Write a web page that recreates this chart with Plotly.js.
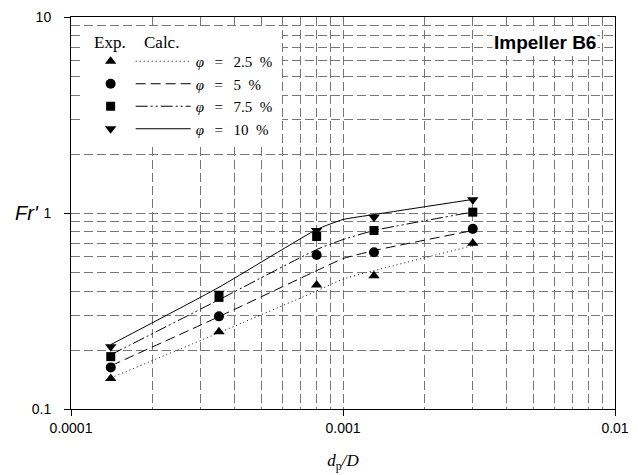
<!DOCTYPE html>
<html>
<head>
<meta charset="utf-8">
<script src="https://cdn.plot.ly/plotly-3.0.1.min.js"></script>
<style>html,body{margin:0;padding:0;background:#fff;}#chart{width:638px;height:475px;}</style>
</head>
<body>
<div id="chart"></div>
<script>
// Experimental points
const expX = [0.00014, 0.00035, 0.0008, 0.0013, 0.003];
const exp25 = [0.143, 0.248, 0.429, 0.479, 0.701];
const exp5 = [0.163, 0.297, 0.611, 0.631, 0.830];
const exp75 = [0.185, 0.371, 0.759, 0.814, 1.01];
const exp10 = [0.208, 0.389, 0.814, 0.952, 1.17];

// Calculated curves
const calcX = [0.00014, 0.00035, 0.0008, 0.001, 0.0013, 0.003];
const calc25 = [0.144, 0.245, 0.40, 0.46, 0.508, 0.682];
const calc5 = [0.166, 0.296, 0.508, 0.585, 0.643, 0.814];
const calc75 = [0.189, 0.361, 0.651, 0.732, 0.814, 1.012];
const calc10 = [0.213, 0.418, 0.823, 0.926, 0.982, 1.173];

const seriesNames = ['\u03C6 = 2.5 %', '\u03C6 = 5 %', '\u03C6 = 7.5 %', '\u03C6 = 10 %'];
const xTickVals = [0.0001, 0.001, 0.01];
const xTickText = ['0.0001', '0.001', '0.01'];
const yTickVals = [0.1, 1, 10];
const yTickText = ['0.1', '1', '10'];
const xMinor = [0.0002,0.0003,0.0004,0.0005,0.0006,0.0007,0.0008,0.0009,0.002,0.003,0.004,0.005,0.006,0.007,0.008,0.009];
const yMinor = [0.2,0.3,0.4,0.5,0.6,0.7,0.8,0.9,2,3,4,5,6,7,8,9];

const expSets = [exp25, exp5, exp75, exp10];
const calcSets = [calc25, calc5, calc75, calc10];
const symbols = ['triangle-up', 'circle', 'square', 'triangle-down'];
const msizes = [10, 10, 9, 10];
const dashes = ['1px,3px', '10px,5px', '12px,3px,2px,3px,2px,3px', 'solid'];

function label(n) {
  return n.replace('\u03C6', '<i>\u03C6</i>')
          .replace(' = ', '\u2002\u2009=\u2002\u2009')
          .replace(' %', '\u2002%');
}

const traces = [];
expSets.forEach((ys, i) => {
  traces.push({
    x: expX, y: ys, type: 'scatter', mode: 'markers',
    name: '\u00a0', legend: 'legend',
    marker: {symbol: symbols[i], size: msizes[i], color: '#000'},
    cliponaxis: false
  });
});
calcSets.forEach((ys, i) => {
  traces.push({
    x: calcX, y: ys, type: 'scatter', mode: 'lines',
    name: label(seriesNames[i]), legend: 'legend2',
    line: {color: '#000', width: 1, dash: dashes[i], shape: 'spline', smoothing: 0.5}
  });
});

const gridCol = '#777777';
const gridDash = '9px,4px';

const axisCommon = {
  type: 'log',
  showline: true, mirror: true, linecolor: '#000', linewidth: 1,
  ticks: 'outside', ticklen: 6, tickcolor: '#000', tickwidth: 1,
  tickmode: 'array',
  showgrid: true, gridcolor: gridCol, gridwidth: 1, griddash: gridDash,
  tickfont: {family: 'Liberation Sans, Arial', size: 14, color: '#000'},
  zeroline: false
};

const legendFont = {family: 'Liberation Serif, Times New Roman', size: 15, color: '#000'};

const layout = {
  width: 638, height: 475,
  margin: {l: 71, r: 23, t: 17, b: 66},
  paper_bgcolor: '#fff', plot_bgcolor: '#fff',
  showlegend: true,
  xaxis: Object.assign({}, axisCommon, {
    range: [-4, -2], tickvals: xTickVals, ticktext: xTickText, ticklabelstandoff: 0,
    minor: {tickmode: 'array', tickvals: xMinor, showgrid: true, gridcolor: gridCol, gridwidth: 1, griddash: gridDash, ticks: ''},
    title: {text: '<i>d</i><sub>p</sub><i>/D</i>', font: {family: 'Liberation Serif, Times New Roman', size: 17, color: '#000'}, standoff: 19}
  }),
  yaxis: Object.assign({}, axisCommon, {
    range: [-1, 1], tickvals: yTickVals, ticktext: yTickText, ticklabelstandoff: 10,
    minor: {tickmode: 'array', tickvals: yMinor, showgrid: true, gridcolor: gridCol, gridwidth: 1, griddash: gridDash, ticks: ''}
  }),
  legend: {
    x: 0.0361, y: 0.9286, xanchor: 'left', yanchor: 'top',
    bgcolor: 'rgba(0,0,0,0)', borderwidth: 0,
    font: legendFont,
    itemclick: false, itemdoubleclick: false, traceorder: 'normal'
  },
  legend2: {
    x: 0.1097, y: 0.9286, xanchor: 'left', yanchor: 'top',
    bgcolor: 'rgba(0,0,0,0)', borderwidth: 0, itemwidth: 55,
    font: legendFont,
    itemclick: false, itemdoubleclick: false, traceorder: 'normal'
  },
  shapes: [
    {type: 'rect', xref: 'paper', yref: 'paper', layer: 'above',
     x0: (80 - 71) / 544, x1: (282 - 71) / 544, y0: (409 - 143) / 392, y1: (409 - 29) / 392,
     fillcolor: '#fff', line: {width: 0}}
  ],
  annotations: [
    {text: 'Exp.', xref: 'paper', yref: 'paper', x: (92 - 71) / 544, y: (409 - 42) / 392, xanchor: 'left', yanchor: 'middle', showarrow: false,
     font: {family: 'Liberation Serif, Times New Roman', size: 17, color: '#000'}},
    {text: 'Calc.', xref: 'paper', yref: 'paper', x: (142 - 71) / 544, y: (409 - 42) / 392, xanchor: 'left', yanchor: 'middle', showarrow: false,
     font: {family: 'Liberation Serif, Times New Roman', size: 17, color: '#000'}},
    {text: '<b>Impeller B6</b>', xref: 'paper', yref: 'paper', x: (598 - 71) / 544, y: (409 - 42) / 392, xanchor: 'right', yanchor: 'middle', showarrow: false,
     bgcolor: '#fff', font: {family: 'Liberation Sans, Arial', size: 19, color: '#000'}},
    {text: "<i>Fr'</i>", xref: 'paper', yref: 'y', x: (27 - 71) / 544, y: 0, xanchor: 'center', yanchor: 'middle', showarrow: false,
     font: {family: 'Liberation Sans, Arial', size: 20, color: '#000'}}
  ]
};

Plotly.newPlot('chart', traces, layout, {staticPlot: true, displayModeBar: false});
</script>
</body>
</html>
